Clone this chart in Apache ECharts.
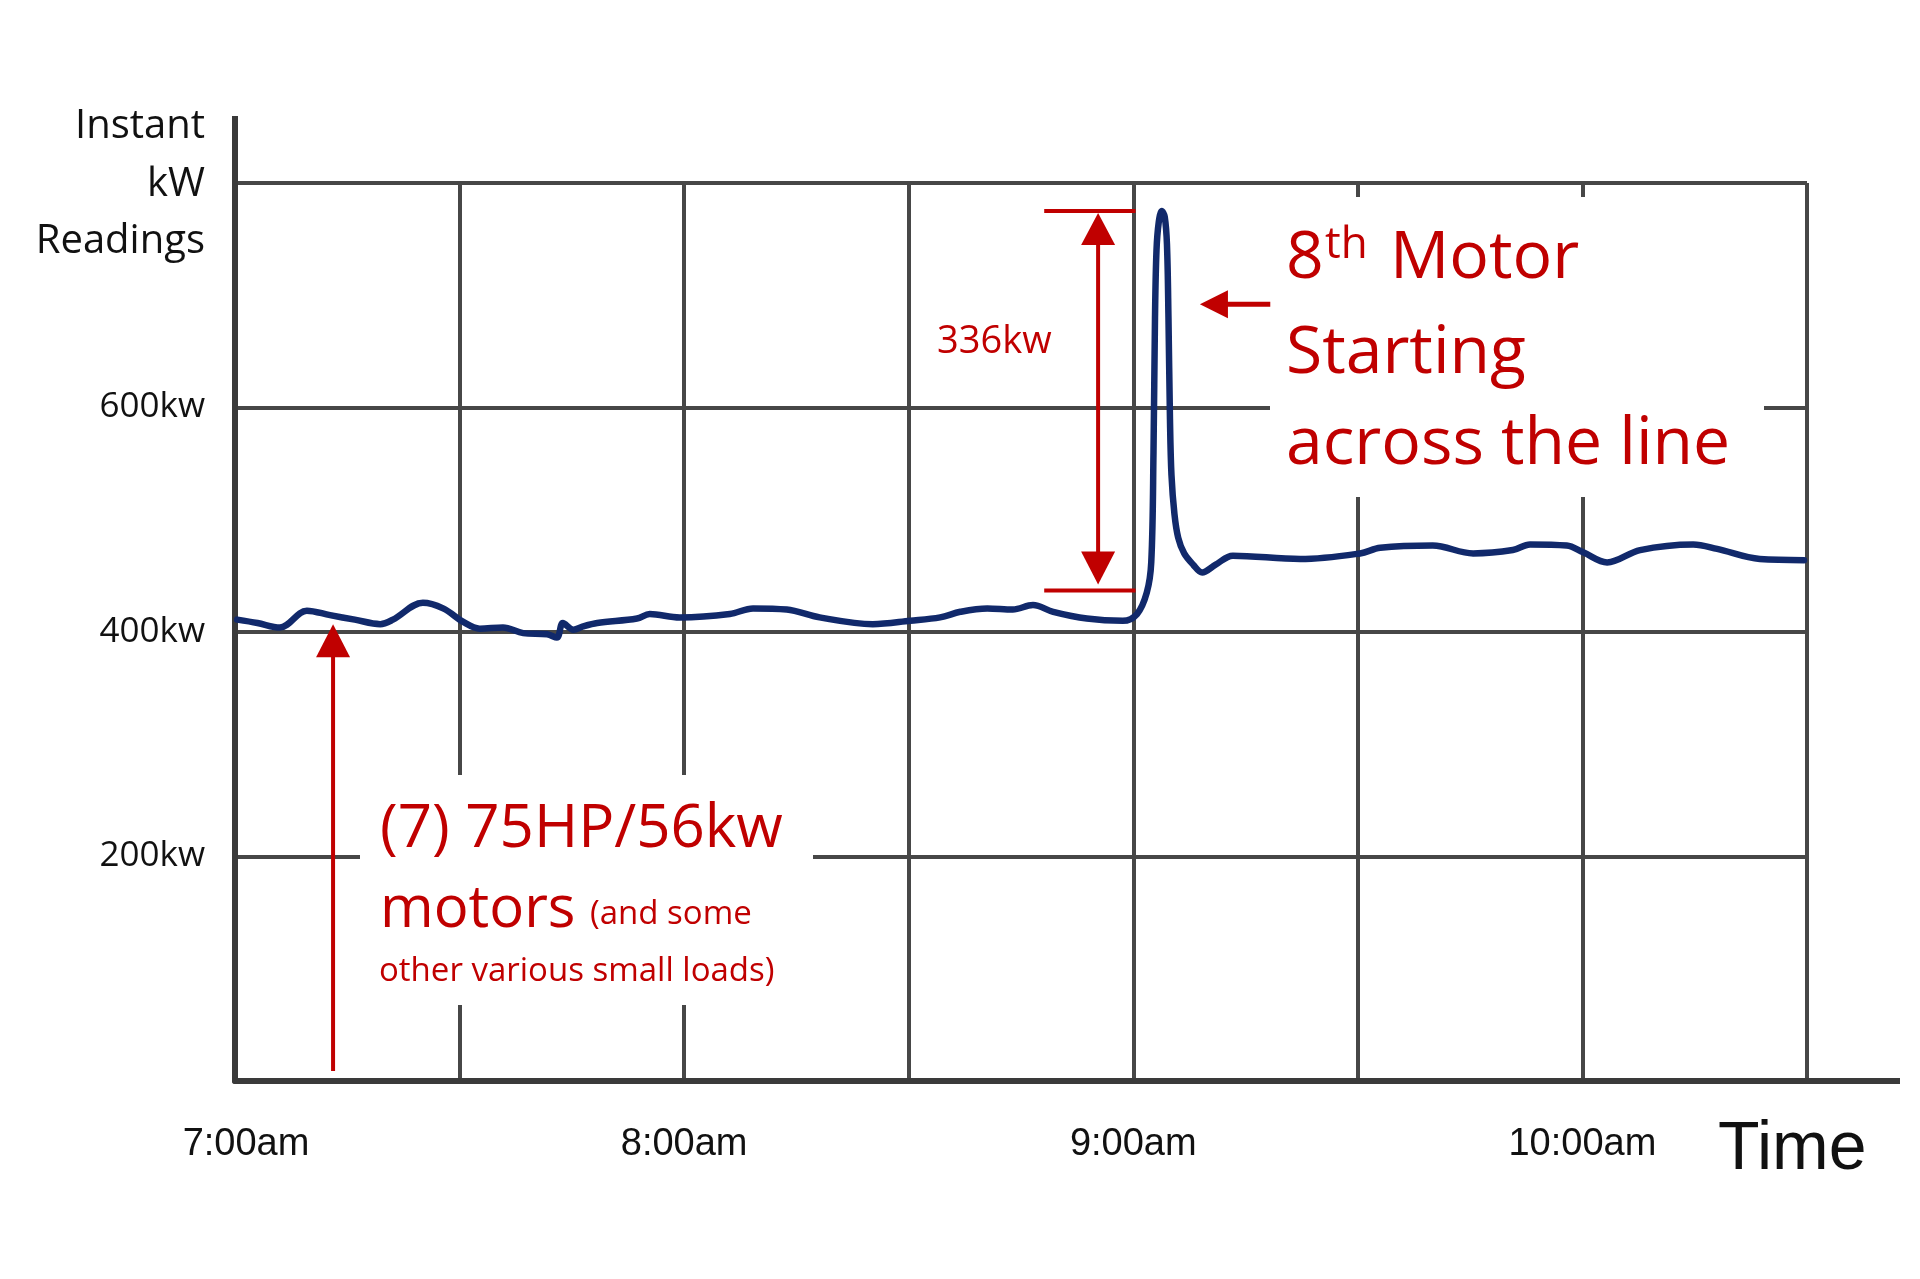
<!DOCTYPE html>
<html>
<head>
<meta charset="utf-8">
<title>Instant kW Readings</title>
<script src="https://cdn.jsdelivr.net/npm/echarts@6/dist/echarts.min.js"></script>
<style>
  html, body { margin: 0; padding: 0; background: #fff; }
  #chart { width: 1920px; height: 1279px; }
</style>
</head>
<body>
<div id="chart"></div>
<script>
// minutes after 7:00am
const minutes = [0.3, 3, 6, 9.6, 12.7, 16, 19.4, 21.1, 25.1, 27.8, 30.5, 32.7, 35.8, 38.5, 41.7, 43.0, 43.8, 45.2,
  46.5, 48.4, 53.7, 55.4, 59.4, 66.1, 69.2, 73.7, 78.1, 85.2, 90.2, 94.2, 96.9, 100.5, 103.9, 106.6, 109.3, 113.8,
  118.6, 120.5, 121.8, 122.4, 122.7, 122.9, 123.1, 123.4, 123.8, 124.2, 124.5, 124.7, 124.9, 125.1, 125.5, 126.0,
  126.8, 128.0, 129.2, 131.0, 133.3,
  142.3, 150.3, 153.0, 160.0, 165.4, 170.7, 173.0, 177.9, 180.1, 183.3, 187.7, 194.8, 198.0, 203.7, 209.6];
// instant kW readings
const kw = [411, 408, 404, 419, 415, 411, 407, 411, 426, 421, 409, 403, 404, 399, 398, 395, 408, 402,
  405, 408, 412, 416, 413, 416, 421, 420, 413, 407, 410, 413, 418, 421, 420, 424, 418, 412,
  410, 416, 435, 462, 560, 680, 740, 765, 775, 770, 745, 680, 590, 540, 505, 484,
  470, 460, 453, 460, 468,
  465, 470, 475, 477, 470, 473, 478, 477, 471, 462, 473, 478, 474, 465, 464];

const hourLabels = { 0: '{first|7:00am}', 60: '8:00am', 120: '9:00am', 180: '10:00am' };
const kwLabels = { 200: '200kw', 400: '400kw', 600: '600kw' };

// annotation values
const motorsArrow = { t: 13.1, from: 9, to: 407 };
const jump = { t: 115.3, tFrom: 108.1, tTo: 120.3, base: 437, peak: 775 }; // 336kw
const pointer = { from: 138.3, to: 128.9, kw: 692 };

const red = '#c00000';
const axisColor = '#3a3a3a';
const gridColor = '#474747';
const font = "'Open Sans', sans-serif";
const tickFont = "'Liberation Sans', Arial, sans-serif";

const chart = echarts.init(document.getElementById('chart'));
chart.setOption({
  animation: false,
  backgroundColor: '#fff',
  grid: { left: 235, right: 113, top: 183, bottom: 198 },
  xAxis: {
    type: 'value',
    min: 0,
    max: 210,
    interval: 30,
    axisLine: { show: true, lineStyle: { color: axisColor, width: 6 } },
    axisTick: { show: false },
    splitLine: { show: true, lineStyle: { color: gridColor, width: 4 } },
    axisLabel: {
      margin: 45,
      fontFamily: tickFont,
      fontSize: 38,
      color: '#111',
      formatter: v => hourLabels[v] || '',
      rich: {
        first: { fontFamily: tickFont, fontSize: 38, color: '#111', padding: [0, 0, 0, 22] }
      }
    }
  },
  yAxis: {
    type: 'value',
    min: 0,
    max: 800,
    interval: 200,
    axisLine: { show: true, lineStyle: { color: axisColor, width: 6 } },
    axisTick: { show: false },
    splitLine: { show: true, lineStyle: { color: gridColor, width: 4 } },
    axisLabel: {
      margin: 30,
      fontFamily: font,
      fontSize: 35,
      color: '#111',
      formatter: v => kwLabels[v] || ''
    }
  },
  series: [{
    type: 'line',
    data: minutes.map((t, i) => [t, kw[i]]),
    symbol: 'none',
    smooth: 0.35,
    z: 4,
    lineStyle: { color: '#11296b', width: 6.5, join: 'round', cap: 'round' }
  }]
});

function px(t, v) { return chart.convertToPixel({ gridIndex: 0 }, [t, v]); }

const o = px(0, 0), topLeft = px(0, 800), endX = px(210, 0);
const g = [];

// axis extensions
g.push({ type: 'line', z: 3, shape: { x1: o[0], y1: topLeft[1] - 67, x2: o[0], y2: topLeft[1] },
  style: { stroke: axisColor, lineWidth: 6 } });
g.push({ type: 'line', z: 3, shape: { x1: endX[0], y1: endX[1], x2: endX[0] + 93, y2: endX[1] },
  style: { stroke: axisColor, lineWidth: 6 } });

// white boxes behind the notes
g.push({ type: 'rect', z: 1, shape: { x: 1270, y: 197, width: 494, height: 300 }, style: { fill: '#fff' } });
g.push({ type: 'rect', z: 1, shape: { x: 360, y: 775, width: 453, height: 230 }, style: { fill: '#fff' } });

// motors arrow
const mb = px(motorsArrow.t, motorsArrow.from), mt = px(motorsArrow.t, motorsArrow.to);
g.push({ type: 'line', z: 5, shape: { x1: mb[0], y1: mb[1], x2: mt[0], y2: mt[1] + 30 }, style: { stroke: red, lineWidth: 4 } });
g.push({ type: 'polygon', z: 5, shape: { points: [[mt[0], mt[1]], [mt[0] - 17, mt[1] + 33], [mt[0] + 17, mt[1] + 33]] }, style: { fill: red } });

// 336kw double arrow
const jt = px(jump.t, jump.peak), jb = px(jump.t, jump.base);
const jl = px(jump.tFrom, 0)[0], jr = px(jump.tTo, 0)[0];
g.push({ type: 'line', z: 5, shape: { x1: jl, y1: jt[1], x2: jr, y2: jt[1] }, style: { stroke: red, lineWidth: 4 } });
g.push({ type: 'line', z: 5, shape: { x1: jl, y1: jb[1], x2: jr, y2: jb[1] }, style: { stroke: red, lineWidth: 4 } });
g.push({ type: 'line', z: 5, shape: { x1: jt[0], y1: jt[1] + 20, x2: jb[0], y2: jb[1] - 20 }, style: { stroke: red, lineWidth: 4 } });
g.push({ type: 'polygon', z: 5, shape: { points: [[jt[0], jt[1] + 2], [jt[0] - 17, jt[1] + 34], [jt[0] + 17, jt[1] + 34]] }, style: { fill: red } });
g.push({ type: 'polygon', z: 5, shape: { points: [[jb[0], jb[1] - 6], [jb[0] - 17, jb[1] - 39], [jb[0] + 17, jb[1] - 39]] }, style: { fill: red } });

// left pointer to the spike
const pt = px(pointer.to, pointer.kw), pf = px(pointer.from, pointer.kw);
g.push({ type: 'line', z: 5, shape: { x1: pf[0], y1: pf[1], x2: pt[0] + 25, y2: pt[1] }, style: { stroke: red, lineWidth: 5 } });
g.push({ type: 'polygon', z: 5, shape: { points: [[pt[0], pt[1]], [pt[0] + 28, pt[1] - 14], [pt[0] + 28, pt[1] + 14]] }, style: { fill: red } });

function txt(text, x, y, size, color) {
  return {
    type: 'text', z: 6, x: x, y: y,
    style: { text: text, fill: color, font: size + 'px ' + font, textAlign: 'left', textVerticalAlign: 'middle' }
  };
}

// y axis title
['Instant', 'kW', 'Readings'].forEach((s, i) => {
  const e = txt(s, 205, 127 + i * 57.5, 40, '#111');
  e.style.textAlign = 'right';
  g.push(e);
});

// x axis title
g.push({ type: 'text', z: 6, x: 1718, y: 1150,
  style: { text: 'Time', fill: '#111', font: '68px ' + tickFont, textVerticalAlign: 'middle' } });

// notes
g.push(txt('336kw', 937, 342, 38, red));
g.push(txt('8', 1286, 259, 66, red));
g.push(txt('th', 1325, 245, 44, red));
g.push(txt('Motor', 1390, 259, 66, red));
g.push(txt('Starting', 1286, 354, 66, red));
g.push(txt('across the line', 1286, 445, 66, red));

g.push(txt('(7) 75HP/56kw', 380, 830, 60, red));
g.push(txt('motors', 380, 910, 58, red));
g.push(txt('(and some', 590, 915, 33, red));
g.push(txt('other various small loads)', 379, 972, 33, red));

chart.setOption({ graphic: g });
window.addEventListener('resize', function () { chart.resize(); });
</script>
</body>
</html>
